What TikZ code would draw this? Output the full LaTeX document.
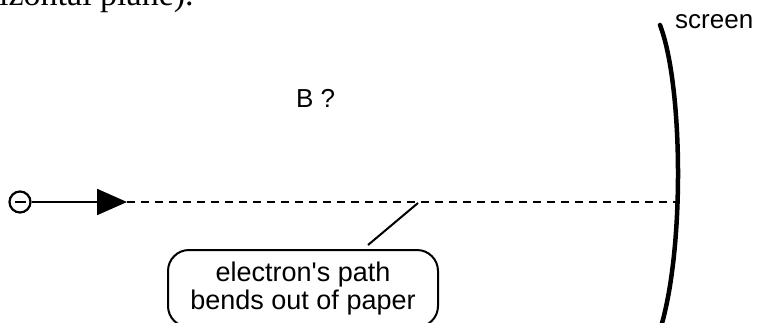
\documentclass[tikz,border=0pt]{standalone}
\usepackage{fontspec}
\setmainfont{Liberation Sans}
\newfontfamily\serifbody{Liberation Serif}
\usetikzlibrary{arrows.meta}
\begin{document}
\begin{tikzpicture}[x=1pt,y=-1pt,
  lbl/.style={font=\fontsize{26}{28}\selectfont, inner sep=0pt},
  callout/.style={draw, line width=2pt, rounded corners=21pt, minimum width=270pt, minimum height=77pt, align=center, font=\fontsize{27}{28}\selectfont, inner sep=0pt},
  elec/.style={draw, circle, line width=2.2pt, minimum size=21pt, inner sep=0pt},
  path line/.style={line width=2.8pt, dash pattern=on 8pt off 6pt},
  screenline/.style={line width=4.5pt, line cap=round}]
\useasboundingbox (0,0) rectangle (757,322);
\clip (0,0) rectangle (757,322);
% clipped text from above
\node[anchor=base west, inner sep=0pt, font=\serifbody\fontsize{34}{36}\selectfont] (top) at (-1,5) {izontal plane).};
% labels
\node[lbl, anchor=base west] (scrlbl) at (675,28) {screen};
\node[lbl, anchor=base west] (B) at (296,107) {B ?};
% electron
\node[elec] (e) at (20,202) {};
\draw[line width=2pt] ([xshift=-5.5pt]e.center) -- ([xshift=5.5pt]e.center);
\coordinate (tip) at (127,202);
\coordinate (hit) at (676,202);
\draw[line width=2.2pt, -{Triangle[length=30pt,width=26pt]}] (e) -- (tip);
\draw[path line] (tip) -- (hit);
% screen
\draw[screenline] (660,25) .. controls (683,85) and (685,250) .. (660,330);
% callout
\node[callout] (box) at (303,288.5) {electron\textquotesingle s path\\bends out of paper};
\coordinate (c1) at (418,203);
\coordinate (c2) at (368,245);
\draw[line width=2pt] (c1) -- (c2);
\end{tikzpicture}
\end{document}
